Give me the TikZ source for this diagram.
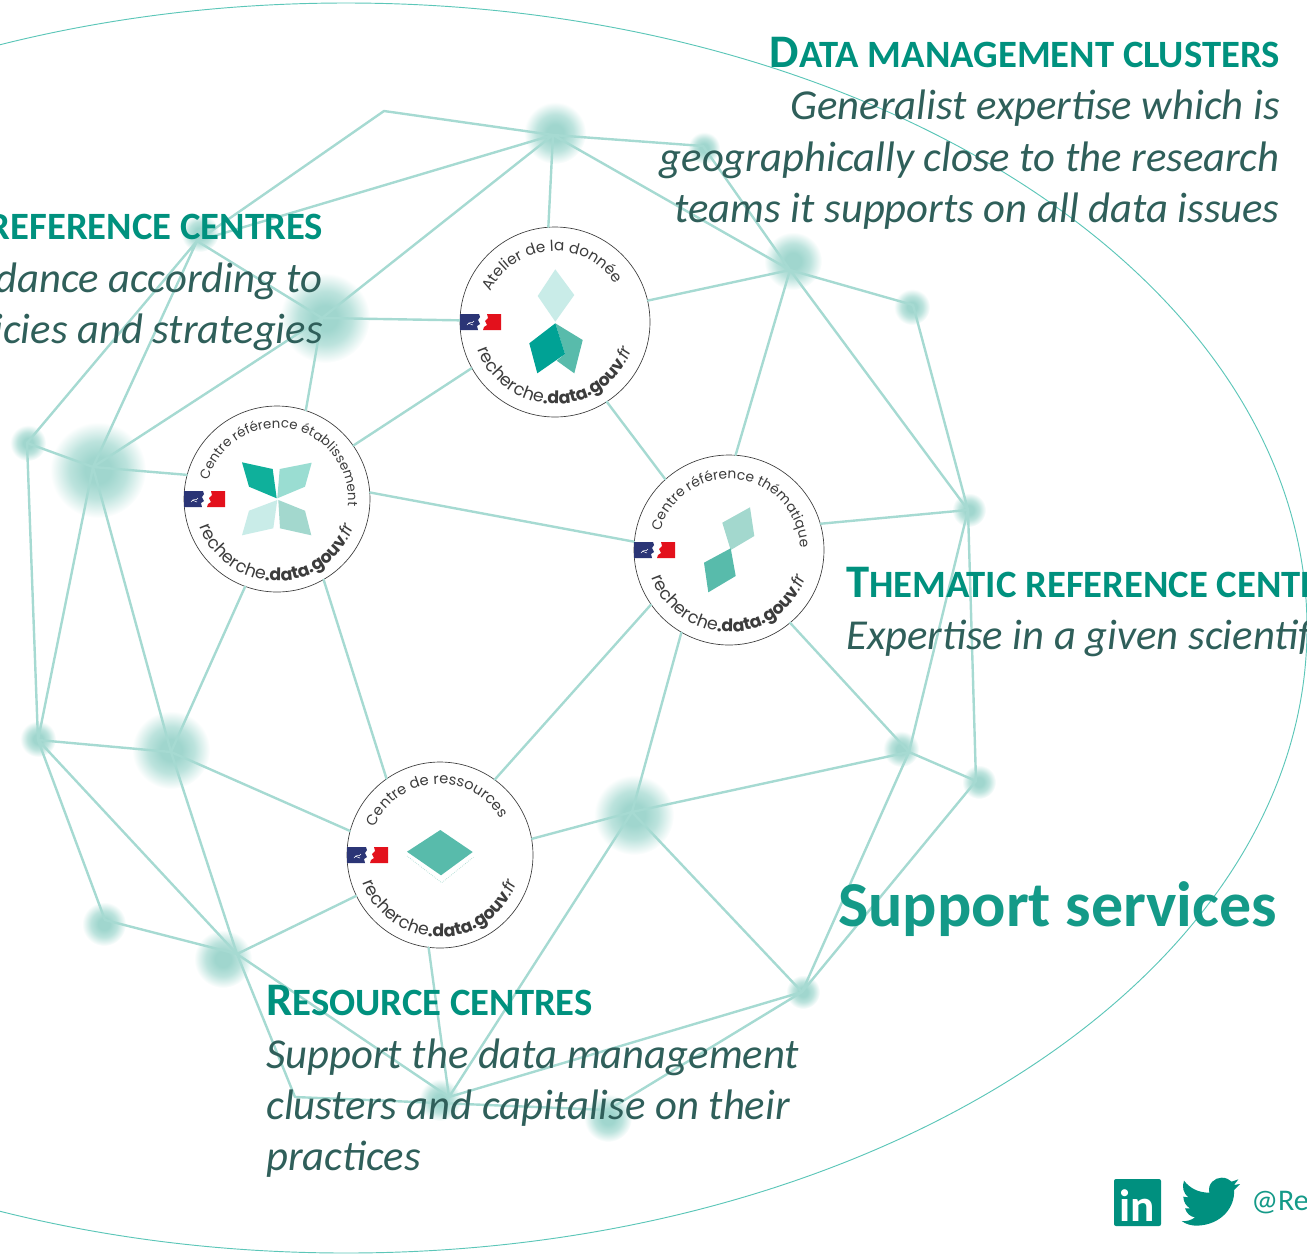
\documentclass[tikz,border=0pt]{standalone}
\usepackage{fontspec}
\setmainfont{Carlito}
\newfontfamily\badgefont{Poppins}
\usetikzlibrary{decorations.text,shapes.geometric}
\definecolor{glowin}{HTML}{A0D6CE}
\definecolor{glowmid}{HTML}{BCE3DD}
\definecolor{edgec}{HTML}{A6DAD2}
\definecolor{ringc}{HTML}{5CC6B8}
\definecolor{titlec}{HTML}{00917E}
\definecolor{bodyc}{HTML}{2F5F5A}
\definecolor{bigc}{HTML}{149A88}
\definecolor{badgeink}{HTML}{3C3C3C}
\definecolor{flagblue}{HTML}{2B3576}
\definecolor{flagred}{HTML}{E3111C}
\definecolor{emA}{HTML}{00A295}
\definecolor{emB}{HTML}{58BBAB}
\definecolor{emC}{HTML}{C9ECE8}
\definecolor{emD}{HTML}{0FB09B}
\definecolor{emE}{HTML}{9ADDD2}
\definecolor{emF}{HTML}{A3D8CE}
\definecolor{socialc}{HTML}{00907F}
\pgfdeclareradialshading{hubglow}{\pgfpointorigin}{color(0bp)=(glowin); color(7bp)=(glowin); color(15bp)=(glowmid); color(25bp)=(white); color(50bp)=(white)}
\newcommand{\capL}{\fontsize{35}{38}\selectfont}
\newcommand{\capS}{\fontsize{29}{38}\selectfont}
\tikzset{
  glow/.style={circle,inner sep=0pt,minimum size=#1*0.75pt,shading=hubglow,draw=none},
  link/.style={draw=edgec,line width=1.8pt,line cap=round,line join=round},
  badge/.style={circle,inner sep=0pt,minimum size=#1*0.75pt,draw=badgeink,line width=0.5pt,fill=white},
  ttl/.style={inner sep=0pt,text=titlec,font=\bfseries},
  bodyt/.style={inner sep=0pt,text=bodyc,font=\fontsize{32}{36}\selectfont\itshape},
  pics/flag/.style={code={
    \begin{scope}[y=.75pt]
      \fill[flagblue] (-95,8) -- (-76,8) -- (-75,5) -- (-77,2) -- (-75,-2) -- (-78,-4) -- (-77,-8) -- (-95,-8) -- cycle;
      \fill[flagred] (-54,8) -- (-68,8) -- (-67,4) -- (-70,1) -- (-68,-3) -- (-71,-5) -- (-72,-8) -- (-54,-8) -- cycle;
      \draw[white,line width=.4pt] (-88,-3) .. controls (-85,2) and (-83,-3) .. (-81,1);
      \draw[white,line width=.4pt] (-87,-1) -- (-82,-3);
    \end{scope}}},
  pics/ringtext/.style n args={3}{code={
    \begin{scope}[y=.75pt]
      \path[decorate,decoration={text along path,text align=left,text={|\badgefont\fontsize{#3}{12}\selectfont\color{badgeink}|#1}}]
        (#2:71) arc[start angle=#2,end angle=#2-260,radius=71];
      \path[decorate,decoration={text along path,text align=center,text={|\badgefont\fontsize{13}{14}\selectfont\color{badgeink}|recherche|\badgefont\fontsize{13}{14}\selectfont\bfseries\color{badgeink}|.data.gouv|\badgefont\fontsize{13}{14}\selectfont\itshape\color{badgeink}|.fr}}]
        (188:82) arc[start angle=188,end angle=352,radius=82];
    \end{scope}}}
}
\begin{document}
\begin{tikzpicture}[x=.75pt,y=-.75pt]
\useasboundingbox (0,0) rectangle (1307,1254);
\clip (0,0) rectangle (1307,1254);
% glows
\foreach \n/\gx/\gy/\d in {B/555/133/62,C/704/148/32,D/200/233/38,E/325/318/90,F/793/261/58,G/912/307/36,H/28/443/36,I/98/470/96,J/969/510/34,K/38/739/36,L/171/750/78,M/901/749/36,N/979/782/34,O/634/815/80,P/104/924/44,Q/223/959/58,R/803/992/34,S/440/1100/42,T/608/1118/48}
  \node[glow=\d] (g\n) at (\gx,\gy) {};
% hubs
\coordinate (A) at (384,111);
\coordinate (B) at (553,135);
\coordinate (C) at (703,146);
\coordinate (D) at (197,241);
\coordinate (E) at (322,318);
\coordinate (F) at (790,270);
\coordinate (G) at (913,305);
\coordinate (H) at (27,443);
\coordinate (I) at (93,467);
\coordinate (J) at (968,510);
\coordinate (K) at (38,740);
\coordinate (L) at (171,752);
\coordinate (M) at (909,752);
\coordinate (N) at (976,781);
\coordinate (O) at (632,812);
\coordinate (P) at (105,920);
\coordinate (Q) at (237,954);
\coordinate (R) at (802,992);
\coordinate (S) at (449,1097);
\coordinate (T) at (608,1110);
\coordinate (U) at (295,1097);
% badges
\node[badge=190] (a) at (555,322) {};
\node[badge=186] (b) at (277,499) {};
\node[badge=190] (c) at (729,550) {};
\node[badge=186] (d) at (440,855) {};
% edges between hubs
\draw[link] (D) -- (A) -- (B) -- (C) -- (F) -- (B);
\draw[link] (B) -- (D) -- (H) -- (I) -- (D);
\draw[link] (B) -- (E) -- (D);
\draw[link] (E) -- (I) -- (L) -- (K) -- (I);
\draw[link] (H) -- (K) -- (P) -- (Q) -- (K);
\draw[link] (L) -- (Q) -- (S) -- (O) -- (R) -- (S);
\draw[link] (Q) -- (U) -- (T) -- (R) -- (M) -- (N) -- (R);
\draw[link] (O) -- (M) -- (J) -- (N);
\draw[link] (F) -- (G) -- (J) -- (F);
% edges to badges
\draw[link] (B) -- (a.94);
\draw[link] (F) -- (a.13);
\draw[link] (E) -- (a.179);
\draw[link] (a.209) -- (b.35);
\draw[link] (a.303) -- (c.132);
\draw[link] (E) -- (b.72.5);
\draw[link] (I) -- (b.165);
\draw[link] (b.4) -- (c.175);
\draw[link] (L) -- (b.250.6);
\draw[link] (b.300) -- (d.125);
\draw[link] (F) -- (c.86);
\draw[link] (J) -- (c.16);
\draw[link] (M) -- (c.310);
\draw[link] (O) -- (c.240);
\draw[link] (c.215.5) -- (d.54.5);
\draw[link] (O) -- (d.10);
\draw[link] (L) -- (d.165);
\draw[link] (Q) -- (d.206);
\draw[link] (S) -- (d.263);
% large ring
\draw[ringc,line width=.7pt] (346,628) ellipse [x radius=961,y radius=625];
% badge A
\path pic at (a) {flag} pic at (a) {ringtext={Atelier de la donnée}{155}{11.4}};
\fill[emC] (555.3,269.3) -- (574.3,295) -- (555.3,321.7) -- (537.7,296) -- cycle;
\fill[emB] (555.3,323.3) -- (582.7,340) -- (574.3,373.3) -- (556.7,360.7) -- (565,354) -- cycle;
\fill[emA] (555.3,323.3) -- (565,354) -- (537.3,373.3) -- (529.3,343.3) -- cycle;
% badge B
\path pic at ([xshift=1.5pt]b) {flag} pic at (b) {ringtext={Centre référence établissement}{165}{10}};
\fill[emD] (242,462.3) -- (272.7,469) -- (276.7,498.3) -- (249,486.7) -- cycle;
\fill[emE] (311.7,462.7) -- (279.7,469) -- (277.3,498.3) -- (305,486.7) -- cycle;
\fill[emC] (277.3,500) -- (249,510.7) -- (242,535.3) -- (273.3,528.3) -- cycle;
\fill[emF] (278.3,500) -- (305,510.7) -- (311.3,535.3) -- (280,528.3) -- cycle;
% badge C
\path pic at (c) {flag} pic at (c) {ringtext={Centre référence thématique}{165}{10.4}};
\fill[emF] (750,507.3) -- (754.3,536) -- (730.7,550) -- (722.3,522.7) -- cycle;
\fill[emB] (730.7,548.3) -- (735.7,576) -- (708.3,592.3) -- (704,562.7) -- cycle;
% badge D
\path pic at ([xshift=1.5pt]d) {flag} pic at (d) {ringtext={Centre de ressources}{157}{11}};
\fill[emB] (440.3,830) -- (472.7,852) -- (441,875.3) -- (407,851.7) -- cycle;
\draw[emF,line width=.5pt,densely dotted] (407,856) -- (441.7,882.7) -- (473.3,857.3);
% texts
\node[ttl,anchor=base east] (t1) at (1280,67) {{\capL D}{\capS ATA MANAGEMENT CLUSTERS}};
\node[bodyt,anchor=base east] (t1a) at (1280,119) {Generalist expertise which is};
\node[bodyt,anchor=base east] (t1b) at (1280,171) {geographically close to the research};
\node[bodyt,anchor=base east] (t1c) at (1280,222) {teams it supports on all data issues};
\node[ttl,anchor=base east] (t2) at (323,239) {{\capS REFERENCE CENTRES}};
\node[bodyt,anchor=base east] (t2a) at (323,292) {dance according to};
\node[bodyt,anchor=base east] (t2b) at (323,343) {icies and strategies};
\node[ttl,anchor=base west] (t3) at (846,597) {{\capL T}{\capS HEMATIC REFERENCE CENTRES}};
\node[bodyt,anchor=base west] (t3a) at (846,649) {Expertise in a given scientif};
\node[ttl,anchor=base west] (t4) at (266,1015) {{\capL R}{\capS ESOURCE CENTRES}};
\node[bodyt,anchor=base west] (t4a) at (266,1068) {Support the data management};
\node[bodyt,anchor=base west] (t4b) at (266,1119) {clusters and capitalise on their};
\node[bodyt,anchor=base west] (t4c) at (266,1170) {practices};
\node[inner sep=0pt,anchor=base west,text=bigc,font=\bfseries\fontsize{48}{52}\selectfont] (t5) at (838,926) {Support services};
% social
\fill[socialc,rounded corners=1.5pt] (1114,1179) rectangle (1161,1226);
\node[inner sep=0pt,text=white,font=\bfseries\fontsize{34}{36}\selectfont,anchor=base] (lk) at (1137.5,1221) {in};
\begin{scope}[shift={(1090,1160)},x=.25pt,y=-.25pt]
\fill[socialc] (282,62) .. controls (300,85) and (325,98) .. (358,98) .. controls (352,70) and (375,53) .. (395,53)
  .. controls (408,53) and (418,58) .. (425,65) -- (445,58) -- (432,75) -- (450,72) -- (432,90)
  .. controls (436,140) and (395,195) .. (320,197) .. controls (305,197) and (288,193) .. (275,183)
  .. controls (290,185) and (305,180) .. (315,172) .. controls (300,170) and (290,160) .. (285,145) -- (300,145)
  .. controls (288,138) and (280,125) .. (280,110) -- (295,112) .. controls (280,100) and (275,80) .. (282,62) -- cycle;
\end{scope}
\node[inner sep=0pt,anchor=base west,text=bigc,font=\fontsize{22.5}{26}\selectfont] (hd) at (1251,1210) {@Re};
\end{tikzpicture}
\end{document}
